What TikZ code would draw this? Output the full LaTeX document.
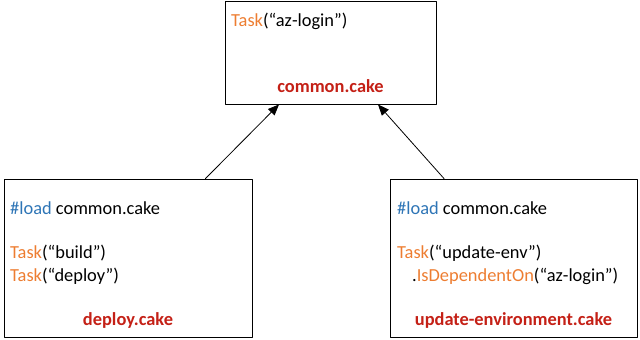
\documentclass[tikz,border=0pt]{standalone}
\usepackage{fontspec}
\setmainfont{Carlito}
\usepackage{tikz}
\usetikzlibrary{arrows.meta,positioning}

\definecolor{taskorange}{RGB}{237,125,49}
\definecolor{loadblue}{RGB}{46,117,182}
\definecolor{filered}{RGB}{196,32,22}

\begin{document}
\begin{tikzpicture}[
		x=1pt, y=-1pt,
		every node/.style={font=\fontsize{18.4}{22}\selectfont, inner sep=0pt},
		filebox/.style={draw=black, line width=0.9pt, rectangle},
		codeline/.style={anchor=base west, text=black},
		filename/.style={anchor=base, font=\fontsize{18.4}{22}\selectfont\bfseries, text=filered},
		dependson/.style={-{Triangle[length=11pt,width=9pt]}, line width=0.8pt},
		line cap=round,
		line join=round
		]
		\useasboundingbox (0,0) rectangle (640,340);
		
		% =========================
		% File boxes
		% =========================
		\node[filebox, minimum width=211pt, minimum height=103pt] (common) at (330.5,52.5) {};
		\node[filebox, minimum width=248pt, minimum height=158pt] (deploy) at (128,258) {};
		\node[filebox, minimum width=247pt, minimum height=158pt] (update) at (513.5,258) {};
		
		% --------------------------------
		% common.cake
		% --------------------------------
		\node[codeline] (commontask) at (231,26)
		{\textcolor{taskorange}{Task}(“az-login”)};
		\node[filename] (commonname) at (330.5,92) {common.cake};
		
		% --------------------------------
		% deploy.cake
		% --------------------------------
		\node[codeline] (deployload) at (10,214)
		{\textcolor{loadblue}{\#load} common.cake};
		\node[codeline] (deploybuild) at (10,258)
		{\textcolor{taskorange}{Task}(“build”)};
		\node[codeline] (deploytask) at (10,281)
		{\textcolor{taskorange}{Task}(“deploy”)};
		\node[filename] (deployname) at (128,325) {deploy.cake};
		
		% --------------------------------
		% update-environment.cake
		% --------------------------------
		\node[codeline] (updateload) at (397,214)
		{\textcolor{loadblue}{\#load} common.cake};
		\node[codeline] (updatetask) at (397,258)
		{\textcolor{taskorange}{Task}(“update-env”)};
		\node[codeline] (updatedep) at (412,281)
		{.\textcolor{taskorange}{IsDependentOn}(“az-login”)};
		\node[filename] (updatename) at (513.5,325) {update-environment.cake};
		
		% --------------------------------
		% Load arrows
		% --------------------------------
		\coordinate (deployout) at ([xshift=77.5pt]deploy.north);
		\coordinate (updateout) at ([xshift=-69.5pt]update.north);
		\coordinate (commonleft) at ([xshift=-51.5pt]common.south);
		\coordinate (commonright) at ([xshift=47.5pt]common.south);
		
		\draw[dependson] (deployout) -- (commonleft);
		\draw[dependson] (updateout) -- (commonright);
		
	\end{tikzpicture}
\end{document}
